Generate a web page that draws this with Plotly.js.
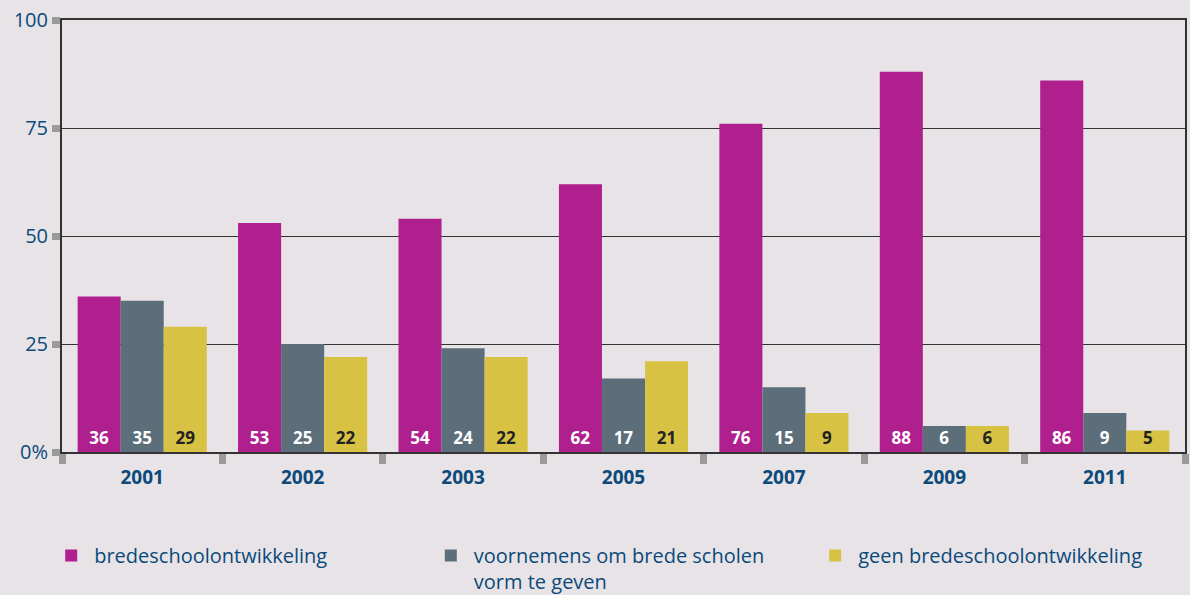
<!DOCTYPE html>
<html>
<head>
<meta charset="utf-8">
<script src="https://cdn.plot.ly/plotly-3.0.1.min.js"></script>
<style>
  html, body { margin: 0; padding: 0; background: #e8e3e7; }
  #chart { width: 1190px; height: 595px; }
</style>
</head>
<body>
<div id="chart"></div>
<script>
// survey years
const years = ["2001", "2002", "2003", "2005", "2007", "2009", "2011"];

// percentages per answer
const brede = [36, 53, 54, 62, 76, 88, 86];
const voornemens = [35, 25, 24, 17, 15, 6, 9];
const geen = [29, 22, 22, 21, 9, 6, 5];

const names = [
  "bredeschoolontwikkeling",
  "voornemens om brede scholen<br>vorm te geven",
  "geen bredeschoolontwikkeling"
];
const colors = ["#b01f8e", "#5b6e7a", "#d8c244"];
const labelColors = ["#ffffff", "#ffffff", "#222222"];

const yTicks = [0, 25, 50, 75, 100];
const yTickText = ["0%", "25", "50", "75", "100"];

// one legend box per series so they sit in three columns
const legendIds = ["legend", "legend2", "legend3"];
const legendX = [0.0405, 0.3595, 0.6825];

const series = [brede, voornemens, geen];
const data = series.map(function (vals, i) {
  return {
    type: "bar",
    x: years,
    y: vals,
    name: names[i],
    legend: legendIds[i],
    marker: { color: colors[i] },
    text: vals.map(String),
    textposition: "inside",
    insidetextanchor: "start",
    constraintext: "none",
    textangle: 0,
    textfont: { family: "Open Sans", size: 17, color: labelColors[i], weight: 700 },
    hoverinfo: "x+y+name"
  };
});

function legendBox(x) {
  return {
    orientation: "v",
    xref: "container",
    yref: "container",
    x: x,
    y: 0.099,
    xanchor: "left",
    yanchor: "top",
    itemwidth: 36,
    tracegroupgap: 0,
    valign: "top",
    font: { family: "Open Sans", size: 20, color: "#0b4a7a" },
    bgcolor: "rgba(0,0,0,0)"
  };
}

const layout = {
  width: 1190,
  height: 595,
  paper_bgcolor: "#e8e3e7",
  plot_bgcolor: "#e8e3e7",
  margin: { l: 62, r: 5, t: 20, b: 143, autoexpand: false },
  barmode: "group",
  bargap: 0.195,
  bargroupgap: 0,
  font: { family: "Open Sans", color: "#0b4a7a" },
  xaxis: {
    type: "category",
    showline: true,
    linecolor: "#333333",
    linewidth: 2,
    mirror: true,
    ticks: "outside",
    tickson: "boundaries",
    ticklen: 10,
    tickwidth: 7,
    tickcolor: "#9a9a9a",
    ticklabelstandoff: 7,
    tickfont: { family: "Open Sans", size: 19, color: "#0b4a7a", weight: 700 },
    showgrid: false
  },
  yaxis: {
    range: [0, 100],
    tickvals: yTicks,
    ticktext: yTickText,
    showline: true,
    linecolor: "#333333",
    linewidth: 2,
    mirror: true,
    ticks: "outside",
    ticklen: 8,
    tickwidth: 7,
    tickcolor: "#9a9a9a",
    tickfont: { family: "Open Sans", size: 20, color: "#0b4a7a" },
    showgrid: true,
    gridcolor: "#333333",
    gridwidth: 1,
    zeroline: false
  },
  showlegend: true,
  legend: legendBox(legendX[0]),
  legend2: legendBox(legendX[1]),
  legend3: legendBox(legendX[2])
};

Plotly.newPlot("chart", data, layout, { displayModeBar: false });
</script>
</body>
</html>
